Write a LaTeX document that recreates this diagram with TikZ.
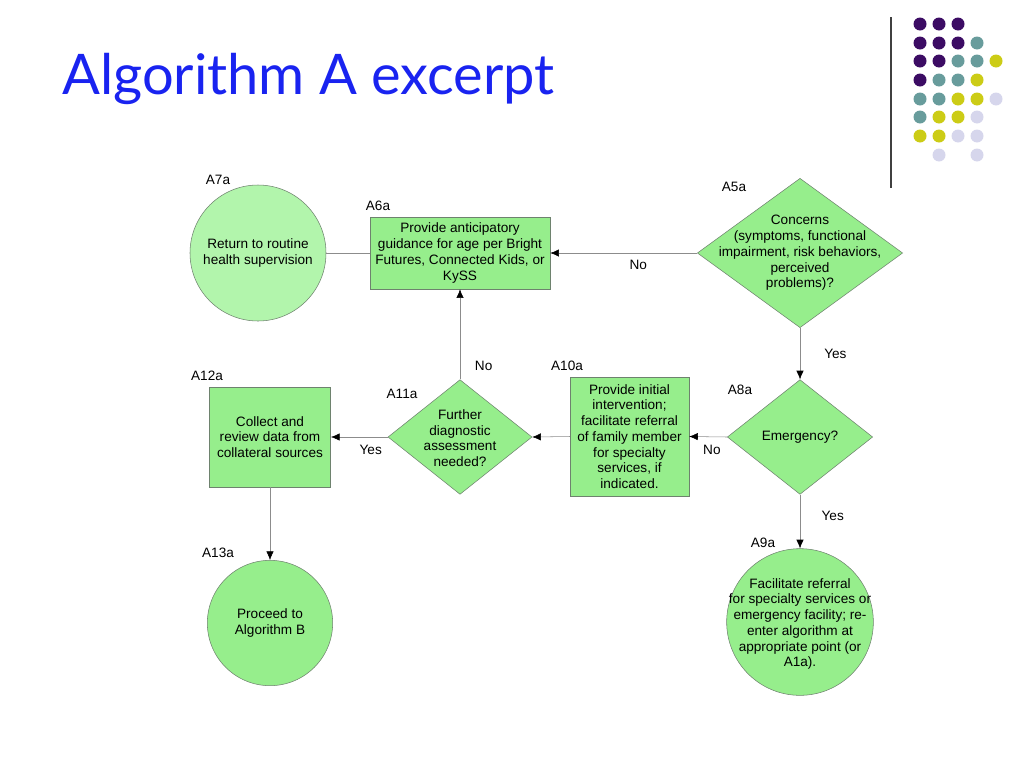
\documentclass[tikz,border=0pt]{standalone}
\usepackage{fontspec}
\setmainfont{Liberation Sans}
\newfontfamily\titlefont{Lato}
\usetikzlibrary{shapes.geometric,arrows.meta}
\definecolor{stepgreen}{RGB}{150,238,140}
\definecolor{palegreen}{RGB}{178,245,172}
\definecolor{edgegray}{RGB}{110,130,110}
\definecolor{linkgray}{RGB}{140,140,140}
\definecolor{titleblue}{RGB}{25,35,240}
\definecolor{dotP}{RGB}{60,12,100}
\definecolor{dotT}{RGB}{104,156,156}
\definecolor{dotY}{RGB}{204,204,22}
\definecolor{dotL}{RGB}{214,214,236}
\tikzset{
  txt/.style={font=\fontsize{10.2}{11.8}\selectfont,align=center,inner sep=0pt},
  box/.style={txt,draw=edgegray,fill=stepgreen,inner sep=2pt},
  ask/.style={diamond,draw=edgegray,fill=stepgreen,inner sep=0pt},
  stop/.style={circle,draw=edgegray,fill=stepgreen,inner sep=0pt},
  tag/.style={font=\fontsize{10.2}{11.8}\selectfont,inner sep=0pt},
  link/.style={draw=linkgray,-{Latex[color=black,length=6.5pt,width=5.5pt]}}
}
\begin{document}
\begin{tikzpicture}[x=0.75pt,y=-0.75pt]
\useasboundingbox (0,0) rectangle (1024,768);
% title and corner decoration
\node[anchor=base west,inner sep=0pt,text=titleblue,font=\titlefont\fontsize{42}{44}\selectfont] (title) at (62,94) {Algorithm A excerpt};
\draw[black!75,line width=0.8pt] (891,17) -- (891,188);
\foreach \c [count=\i] in {P,P,P,,}{\ifx\c\empty\else\fill[dot\c] (901+19*\i,24) circle (6.5);\fi}
\foreach \c [count=\i] in {P,P,P,T,}{\ifx\c\empty\else\fill[dot\c] (901+19*\i,43) circle (6.5);\fi}
\foreach \c [count=\i] in {P,P,T,T,Y}{\ifx\c\empty\else\fill[dot\c] (901+19*\i,61) circle (6.5);\fi}
\foreach \c [count=\i] in {P,T,T,Y,}{\ifx\c\empty\else\fill[dot\c] (901+19*\i,80) circle (6.5);\fi}
\foreach \c [count=\i] in {T,T,Y,Y,L}{\ifx\c\empty\else\fill[dot\c] (901+19*\i,99) circle (6.5);\fi}
\foreach \c [count=\i] in {T,Y,Y,L,}{\ifx\c\empty\else\fill[dot\c] (901+19*\i,117) circle (6.5);\fi}
\foreach \c [count=\i] in {Y,Y,L,L,}{\ifx\c\empty\else\fill[dot\c] (901+19*\i,136) circle (6.5);\fi}
\foreach \c [count=\i] in {,L,,L,}{\ifx\c\empty\else\fill[dot\c] (901+19*\i,155) circle (6.5);\fi}

% shapes
\node[stop,fill=palegreen,minimum size=102pt] (a7) at (258,253) {};
\node[txt] (a7t) at (258,253) {Return to routine\\health supervision};
\node[box,minimum width=135pt,minimum height=54pt] (a6) at (460,253) {Provide anticipatory\\guidance for age per Bright\\Futures, Connected Kids, or\\KySS};
\node[ask,minimum width=154pt,minimum height=112pt] (a5) at (800,253) {};
\node[txt] (a5t) at (800,253) {Concerns\\(symptoms, functional\\impairment, risk behaviors,\\perceived\\problems)?};
\node[ask,minimum width=109pt,minimum height=86pt] (a8) at (800,437) {};
\node[txt] (a8t) at (800,437) {Emergency?};
\node[box,minimum width=89pt,minimum height=89pt] (a10) at (629.5,436.5) {Provide initial\\intervention;\\facilitate referral\\of family member\\for specialty\\services, if\\indicated.};
\node[ask,minimum width=108pt,minimum height=86pt] (a11) at (460,437) {};
\node[txt] (a11t) at (460,438) {Further\\diagnostic\\assessment\\needed?};
\node[box,minimum width=91pt,minimum height=75pt] (a12) at (270,437) {Collect and\\review data from\\collateral sources};
\node[stop,minimum size=94pt] (a13) at (270,623) {};
\node[txt] (a13t) at (270,623) {Proceed to\\Algorithm B};
\node[stop,minimum size=110pt] (a9) at (800,622) {};
\node[txt] (a9t) at (800,624) {Facilitate referral\\for specialty services or\\emergency facility; re-\\enter algorithm at\\appropriate point (or\\A1a).};

% step tags
\node[tag] (t7) at (218,180) {A7a};
\node[tag] (t6) at (378,206) {A6a};
\node[tag] (t5) at (734,187) {A5a};
\node[tag] (t12) at (207,376) {A12a};
\node[tag] (t11) at (402,394) {A11a};
\node[tag] (t10) at (567,366) {A10a};
\node[tag] (t8) at (740,390) {A8a};
\node[tag] (t13) at (218,553) {A13a};
\node[tag] (t9) at (763,543) {A9a};

% connectors
\draw[draw=linkgray] (a7) -- (a6);
\draw[link] (a5.west) -- (a6.east) node[tag,pos=0.4,below=5pt] (n1) {No};
\draw[link] (a5.south) -- (a8.north) node[tag,midway,right=18pt] (y1) {Yes};
\draw[link] (a8.west) -- (a10.east) node[tag,pos=0.4,below=6pt] (n2) {No};
\draw[link] (a10.west) -- (a11.east);
\draw[link] (a11.west) -- (a12.east) node[tag,pos=0.3,below=6pt] (y2) {Yes};
\draw[link] (a11.north) -- (a6.south) node[tag,pos=0.15,right=11pt] (n3) {No};
\draw[link] (a12.south) -- (a13.north);
\draw[link] (a8.south) -- (a9.north) node[tag,pos=0.4,right=16pt] (y3) {Yes};
\end{tikzpicture}
\end{document}
